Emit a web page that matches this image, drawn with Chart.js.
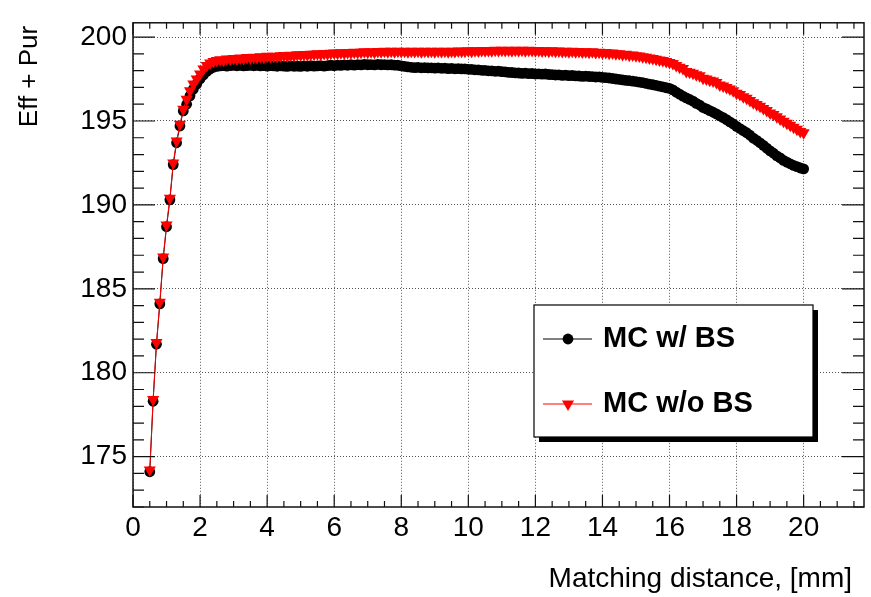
<!DOCTYPE html>
<html>
<head>
<meta charset="utf-8">
<script src="https://cdn.jsdelivr.net/npm/chart.js@4.4.1/dist/chart.umd.min.js"></script>
<style>
  html, body { margin: 0; padding: 0; background: #fff; }
</style>
</head>
<body>
<canvas id="effPurChart" width="871" height="597"></canvas>
<script>
// Matching distance scan, [mm]
const distances = [
  0.5, 0.6, 0.7, 0.8, 0.9, 1.0, 1.1, 1.2, 1.3, 1.4,
  1.5, 1.6, 1.7, 1.8, 1.9, 2.0, 2.1, 2.2, 2.3, 2.4,
  2.5, 2.6, 2.7, 2.8, 2.9, 3.0, 3.1, 3.2, 3.3, 3.4,
  3.5, 3.6, 3.7, 3.8, 3.9, 4.0, 4.1, 4.2, 4.3, 4.4,
  4.5, 4.6, 4.7, 4.8, 4.9, 5.0, 5.1, 5.2, 5.3, 5.4,
  5.5, 5.6, 5.7, 5.8, 5.9, 6.0, 6.1, 6.2, 6.3, 6.4,
  6.5, 6.6, 6.7, 6.8, 6.9, 7.0, 7.1, 7.2, 7.3, 7.4,
  7.5, 7.6, 7.7, 7.8, 7.9, 8.0, 8.1, 8.2, 8.3, 8.4,
  8.5, 8.6, 8.7, 8.8, 8.9, 9.0, 9.1, 9.2, 9.3, 9.4,
  9.5, 9.6, 9.7, 9.8, 9.9, 10.0, 10.1, 10.2, 10.3, 10.4,
  10.5, 10.6, 10.7, 10.8, 10.9, 11.0, 11.1, 11.2, 11.3, 11.4,
  11.5, 11.6, 11.7, 11.8, 11.9, 12.0, 12.1, 12.2, 12.3, 12.4,
  12.5, 12.6, 12.7, 12.8, 12.9, 13.0, 13.1, 13.2, 13.3, 13.4,
  13.5, 13.6, 13.7, 13.8, 13.9, 14.0, 14.1, 14.2, 14.3, 14.4,
  14.5, 14.6, 14.7, 14.8, 14.9, 15.0, 15.1, 15.2, 15.3, 15.4,
  15.5, 15.6, 15.7, 15.8, 15.9, 16.0, 16.1, 16.2, 16.3, 16.4,
  16.5, 16.6, 16.7, 16.8, 16.9, 17.0, 17.1, 17.2, 17.3, 17.4,
  17.5, 17.6, 17.7, 17.8, 17.9, 18.0, 18.1, 18.2, 18.3, 18.4,
  18.5, 18.6, 18.7, 18.8, 18.9, 19.0, 19.1, 19.2, 19.3, 19.4,
  19.5, 19.6, 19.7, 19.8, 19.9, 20.0
];

// Eff + Pur with beam spot constraint
const effPurWithBS = [
  174.1, 178.3, 181.7, 184.1, 186.8, 188.7, 190.3, 192.4, 193.7, 194.7,
  195.6, 196.0, 196.5, 196.9, 197.2, 197.5, 197.75, 197.95, 198.1, 198.2,
  198.25, 198.28, 198.3, 198.27, 198.3, 198.32, 198.29, 198.31, 198.28, 198.3,
  198.32, 198.29, 198.31, 198.28, 198.3, 198.27, 198.3, 198.28, 198.26, 198.29,
  198.27, 198.25, 198.28, 198.26, 198.27, 198.25, 198.28, 198.26, 198.29, 198.27,
  198.28, 198.3, 198.27, 198.3, 198.32, 198.29, 198.33, 198.31, 198.34, 198.32,
  198.35, 198.33, 198.36, 198.34, 198.37, 198.35, 198.36, 198.34, 198.37, 198.35,
  198.36, 198.34, 198.35, 198.33, 198.32, 198.28, 198.25, 198.22, 198.2, 198.18,
  198.19, 198.17, 198.18, 198.16, 198.17, 198.15, 198.16, 198.14, 198.15, 198.12,
  198.13, 198.11, 198.12, 198.1, 198.1, 198.08, 198.07, 198.05, 198.04, 198.02,
  198.01, 197.99, 197.98, 197.96, 197.97, 197.94, 197.93, 197.9, 197.89, 197.87,
  197.86, 197.84, 197.85, 197.82, 197.83, 197.8, 197.81, 197.79, 197.8, 197.77,
  197.76, 197.74, 197.75, 197.72, 197.73, 197.7, 197.71, 197.69, 197.68, 197.66,
  197.67, 197.65, 197.64, 197.62, 197.63, 197.6, 197.58, 197.56, 197.53, 197.5,
  197.48, 197.45, 197.42, 197.4, 197.37, 197.35, 197.31, 197.28, 197.24, 197.2,
  197.16, 197.12, 197.08, 197.03, 196.98, 196.94, 196.85, 196.72, 196.6, 196.48,
  196.38, 196.28, 196.18, 196.05, 195.95, 195.8, 195.72, 195.62, 195.52, 195.42,
  195.3, 195.2, 195.08, 194.95, 194.82, 194.68, 194.55, 194.42, 194.3, 194.15,
  193.98, 193.85, 193.7, 193.55, 193.38, 193.22, 193.08, 192.92, 192.8, 192.65,
  192.55, 192.45, 192.35, 192.28, 192.2, 192.15
];

// Eff + Pur without beam spot constraint
const effPurWithoutBS = [
  174.2, 178.4, 181.8, 184.2, 186.9, 188.8, 190.4, 192.5, 193.8, 194.8,
  195.7, 196.3, 196.8, 197.2, 197.5, 197.8, 198.1, 198.3, 198.45, 198.55,
  198.6, 198.65, 198.62, 198.7, 198.68, 198.72, 198.7, 198.75, 198.73, 198.78,
  198.76, 198.8, 198.78, 198.82, 198.8, 198.85, 198.83, 198.86, 198.84, 198.88,
  198.9, 198.87, 198.92, 198.9, 198.95, 198.93, 198.96, 198.94, 198.98, 198.97,
  199.0, 198.98, 199.02, 199.0, 199.04, 199.05, 199.03, 199.07, 199.05, 199.08,
  199.06, 199.1, 199.08, 199.1, 199.12, 199.09, 199.12, 199.1, 199.14, 199.12,
  199.15, 199.13, 199.15, 199.12, 199.16, 199.14, 199.15, 199.13, 199.16, 199.14,
  199.15, 199.13, 199.16, 199.14, 199.15, 199.12, 199.16, 199.14, 199.15, 199.13,
  199.16, 199.14, 199.17, 199.15, 199.16, 199.18, 199.16, 199.19, 199.17, 199.2,
  199.18, 199.2, 199.19, 199.21, 199.2, 199.22, 199.2, 199.21, 199.19, 199.22,
  199.2, 199.22, 199.19, 199.21, 199.2, 199.18, 199.2, 199.17, 199.19, 199.16,
  199.18, 199.15, 199.17, 199.14, 199.16, 199.13, 199.15, 199.12, 199.14, 199.11,
  199.13, 199.1, 199.12, 199.08, 199.1, 199.06, 199.08, 199.04, 199.05, 199.0,
  199.0, 198.96, 198.97, 198.92, 198.93, 198.88, 198.87, 198.82, 198.8, 198.76,
  198.72, 198.68, 198.64, 198.6, 198.55, 198.48, 198.42, 198.3, 198.2, 198.12,
  197.95, 197.9, 197.85, 197.75, 197.7, 197.55, 197.5, 197.42, 197.38, 197.3,
  197.15, 197.08, 197.0, 196.9, 196.8, 196.65, 196.58, 196.45, 196.35, 196.22,
  196.08, 195.98, 195.88, 195.75, 195.62, 195.48, 195.38, 195.25, 195.12, 194.98,
  194.86, 194.75, 194.62, 194.5, 194.38, 194.3
];

const xTickValues = [0, 2, 4, 6, 8, 10, 12, 14, 16, 18, 20];
const yTickValues = [175, 180, 185, 190, 195, 200];

const FONT = "'Liberation Sans', Arial, Helvetica, sans-serif";

function toPoints(ys) {
  return distances.map((x, i) => ({ x: x, y: ys[i] }));
}

// Frame, inward major/minor ticks, axis titles and the boxed legend
const rootStyle = {
  id: "rootStyle",
  afterDatasetsDraw(chart) {
    const ctx = chart.ctx;
    const area = chart.chartArea;
    const xs = chart.scales.x;
    const ys = chart.scales.y;

    ctx.save();
    ctx.strokeStyle = "#111";
    ctx.lineWidth = 1.5;
    ctx.strokeRect(area.left, area.top, area.right - area.left, area.bottom - area.top);

    ctx.lineWidth = 1.2;
    ctx.beginPath();
    for (let v = 0; v <= xs.max + 1e-9; v += 0.5) {
      const px = xs.getPixelForValue(v);
      const len = Math.abs(v % 2) < 1e-6 ? 12 : 6;
      ctx.moveTo(px, area.bottom);
      ctx.lineTo(px, area.bottom - len);
      ctx.moveTo(px, area.top);
      ctx.lineTo(px, area.top + len);
    }
    for (let v = Math.ceil(ys.min); v <= ys.max + 1e-9; v += 1) {
      const py = ys.getPixelForValue(v);
      const len = v % 5 === 0 ? 22 : 11;
      ctx.moveTo(area.left, py);
      ctx.lineTo(area.left + len, py);
      ctx.moveTo(area.right, py);
      ctx.lineTo(area.right - len, py);
    }
    ctx.stroke();

    // axis titles
    ctx.fillStyle = "#000";
    ctx.font = "28px " + FONT;
    ctx.textAlign = "right";
    ctx.textBaseline = "alphabetic";
    ctx.fillText("Matching distance, [mm]", area.right - 12, 587);

    ctx.save();
    ctx.translate(37, area.top + 3);
    ctx.rotate(-Math.PI / 2);
    ctx.font = "26px " + FONT;
    ctx.textAlign = "right";
    ctx.fillText("Eff + Pur", 0, 0);
    ctx.restore();

    // legend box with drop shadow
    const box = { left: 534, top: 305, right: 813, bottom: 437 };
    const w = box.right - box.left;
    const h = box.bottom - box.top;
    ctx.fillStyle = "#000";
    ctx.fillRect(box.left + 5, box.top + 5, w, h);
    ctx.fillStyle = "#fff";
    ctx.fillRect(box.left, box.top, w, h);
    ctx.strokeStyle = "#000";
    ctx.lineWidth = 1.2;
    ctx.strokeRect(box.left, box.top, w, h);

    const rows = [339, 404];
    chart.data.datasets.forEach((ds, i) => {
      const y = rows[i];
      ctx.strokeStyle = ds.borderColor;
      ctx.lineWidth = 1;
      ctx.beginPath();
      ctx.moveTo(543, y);
      ctx.lineTo(592, y);
      ctx.stroke();
      ctx.fillStyle = ds.pointBackgroundColor;
      Chart.helpers.drawPoint(ctx, {
        pointStyle: ds.pointStyle,
        radius: ds.pointRadius,
        rotation: ds.pointRotation || 0,
        borderWidth: 0
      }, 568, y);
      ctx.fillStyle = "#000";
      ctx.font = "bold 29px " + FONT;
      ctx.textAlign = "left";
      ctx.textBaseline = "middle";
      ctx.fillText(ds.label, 603, y);
    });
    ctx.restore();
  }
};

const ctx = document.getElementById("effPurChart").getContext("2d");
const effPurChart = new Chart(ctx, {
  type: "scatter",
  data: {
    datasets: [
      {
        label: "MC w/ BS",
        data: toPoints(effPurWithBS),
        showLine: true,
        borderColor: "#000",
        borderWidth: 1,
        pointStyle: "circle",
        pointRadius: 5.4,
        pointBackgroundColor: "#000",
        pointBorderWidth: 0,
        order: 2
      },
      {
        label: "MC w/o BS",
        data: toPoints(effPurWithoutBS),
        showLine: true,
        borderColor: "#ff0000",
        borderWidth: 1,
        pointStyle: "triangle",
        pointRotation: 180,
        pointRadius: 7,
        pointBackgroundColor: "#ff0000",
        pointBorderWidth: 0,
        order: 1
      }
    ]
  },
  options: {
    responsive: false,
    animation: false,
    devicePixelRatio: 1,
    layout: { padding: { top: 9, right: 4, left: 0, bottom: 0 } },
    plugins: {
      legend: { display: false },
      tooltip: { enabled: false }
    },
    elements: { point: { hoverRadius: 0 } },
    scales: {
      x: {
        type: "linear",
        min: 0,
        max: 21.8,
        afterBuildTicks: (scale) => {
          scale.ticks = xTickValues.map((value) => ({ value }));
        },
        afterFit: (scale) => { scale.height = 90; },
        ticks: {
          color: "#000",
          font: { family: FONT, size: 28 },
          padding: 4,
          maxRotation: 0,
          autoSkip: false
        },
        grid: { color: "#555", lineWidth: 1, drawTicks: false },
        border: { display: false, dash: [1, 2] }
      },
      y: {
        type: "linear",
        min: 172,
        max: 200.85,
        afterBuildTicks: (scale) => {
          scale.ticks = yTickValues.map((value) => ({ value }));
        },
        afterFit: (scale) => { scale.width = 133; },
        ticks: {
          color: "#000",
          font: { family: FONT, size: 28 },
          padding: 6,
          autoSkip: false
        },
        grid: { color: "#555", lineWidth: 1, drawTicks: false },
        border: { display: false, dash: [1, 2] }
      }
    }
  },
  plugins: [rootStyle]
});
</script>
</body>
</html>
